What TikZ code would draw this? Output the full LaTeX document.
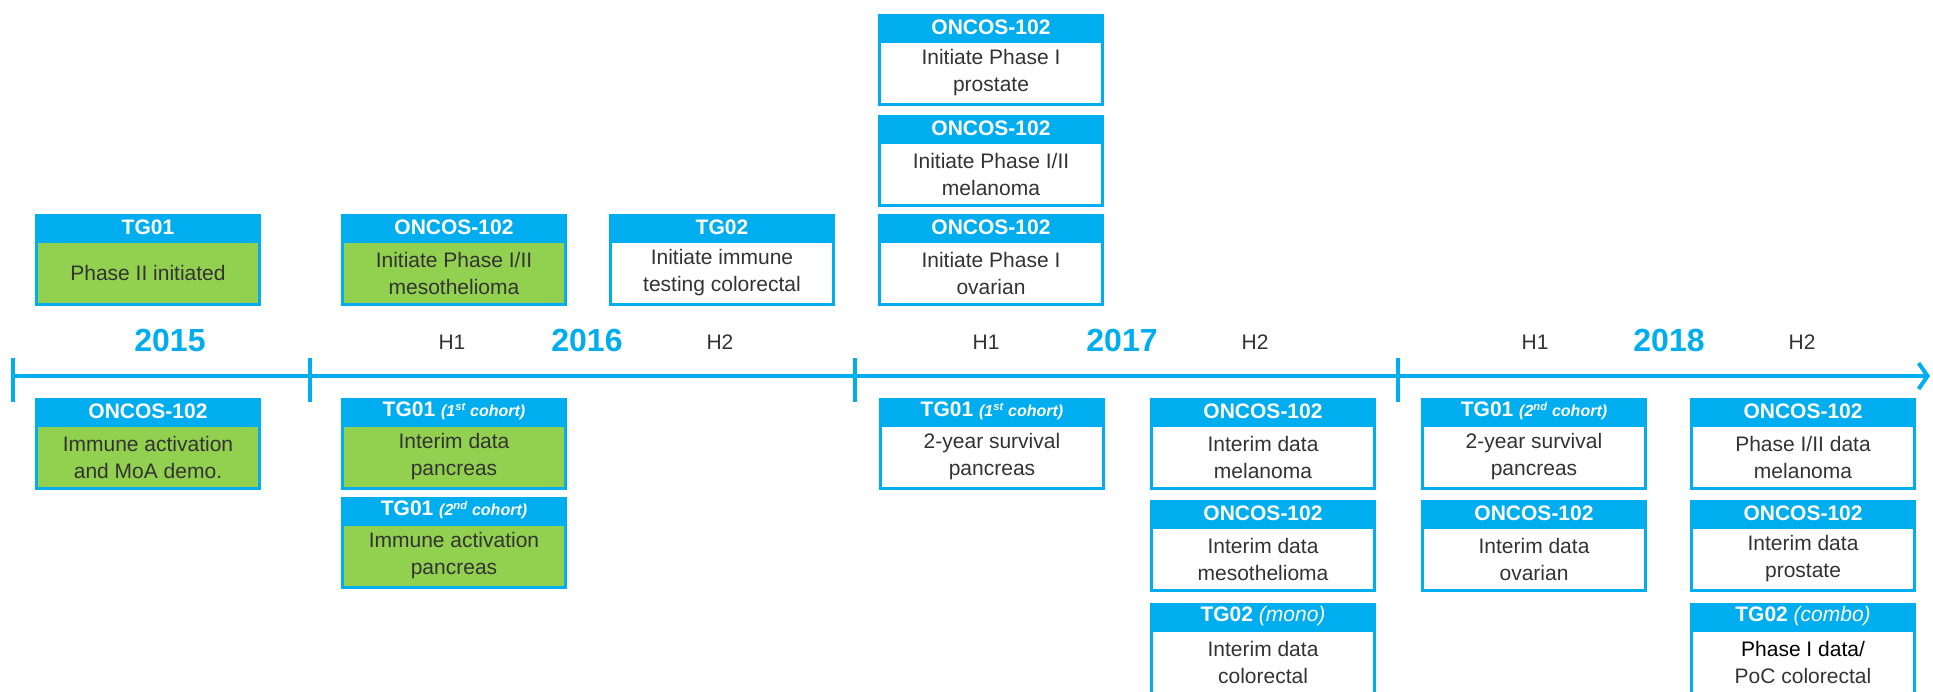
\documentclass[tikz,border=0pt]{standalone}
\usepackage{fontspec}
\setmainfont{Liberation Sans}
\usetikzlibrary{arrows.meta}
\definecolor{cb}{HTML}{00AEEF}
\definecolor{cg}{HTML}{92D050}
\definecolor{ctx}{HTML}{333333}
\newcommand{\evbox}[6]{%
  \node[hdrbox] (#1h) at ({#2+113},{#3+13}) {#5};
  \node[bodybox, fill=#4] (#1) at ({#2+113},{#3+59}) {#6};
}
\newcommand{\coh}[2]{{\fontsize{16}{18}\selectfont\itshape (#1\textsuperscript{#2} cohort)}}
\tikzset{
  hdrbox/.style={rectangle, fill=cb, minimum width=226pt, minimum height=26pt, inner sep=0pt, text=white, font=\bfseries\fontsize{21}{24}\selectfont},
  bodybox/.style={rectangle, draw=cb, line width=3pt, minimum width=223pt, minimum height=63pt, inner sep=0pt, align=center, text=ctx, font=\fontsize{21}{27}\selectfont},
  axisline/.style={draw=cb, line width=4pt},
  yearlab/.style={text=cb, font=\bfseries\fontsize{32}{36}\selectfont, inner sep=0pt},
  halflab/.style={text=ctx, font=\fontsize{21}{24}\selectfont, inner sep=0pt}
}
\begin{document}
\begin{tikzpicture}[x=1pt,y=-1pt]
\useasboundingbox (0,0) rectangle (1933,691);
% axis
\coordinate (a0) at (13,376);
\coordinate (aend) at (1930,376);
\draw[axisline, -{Straight Barb[length=9pt,width=26pt]}] (a0) -- (aend);
\foreach \t/\x in {t1/13, t2/310, t3/855, t4/1398}{
  \coordinate (\t u) at (\x,358);
  \coordinate (\t d) at (\x,402);
  \draw[axisline] (\t u) -- (\t d);
}
% years
\node[yearlab] (y15) at (170,340) {2015};
\node[yearlab] (y16) at (587,340) {2016};
\node[yearlab] (y17) at (1122,340) {2017};
\node[yearlab] (y18) at (1669,340) {2018};
\node[halflab] (h16a) at (452,342) {H1};
\node[halflab] (h16b) at (720,342) {H2};
\node[halflab] (h17a) at (986,342) {H1};
\node[halflab] (h17b) at (1255,342) {H2};
\node[halflab] (h18a) at (1535,342) {H1};
\node[halflab] (h18b) at (1802,342) {H2};
% boxes above
\evbox{a}{35}{214}{cg}{TG01}{Phase II initiated}
\evbox{b}{341}{214}{cg}{ONCOS-102}{Initiate Phase I/II\\mesothelioma}
\evbox{c}{609}{214}{white}{TG02}{Initiate immune\\testing colorectal}
\evbox{d1}{878}{14}{white}{ONCOS-102}{Initiate Phase I\\prostate}
\evbox{d2}{878}{115}{white}{ONCOS-102}{Initiate Phase I/II\\melanoma}
\evbox{d3}{878}{214}{white}{ONCOS-102}{Initiate Phase I\\ovarian}
% boxes below
\evbox{e}{35}{398}{cg}{ONCOS-102}{Immune activation\\and MoA demo.}
\evbox{f1}{341}{398}{cg}{TG01 \coh{1}{st}}{Interim data\\pancreas}
\evbox{f2}{341}{497}{cg}{TG01 \coh{2}{nd}}{Immune activation\\pancreas}
\evbox{g}{879}{398}{white}{TG01 \coh{1}{st}}{2-year survival\\pancreas}
\evbox{h1}{1150}{398}{white}{ONCOS-102}{Interim data\\melanoma}
\evbox{h2}{1150}{500}{white}{ONCOS-102}{Interim data\\mesothelioma}
\evbox{h3}{1150}{603}{white}{TG02 {\mdseries\itshape (mono)}}{Interim data\\colorectal}
\evbox{i1}{1421}{398}{white}{TG01 \coh{2}{nd}}{2-year survival\\pancreas}
\evbox{i2}{1421}{500}{white}{ONCOS-102}{Interim data\\ovarian}
\evbox{j1}{1690}{398}{white}{ONCOS-102}{Phase I/II data\\melanoma}
\evbox{j2}{1690}{500}{white}{ONCOS-102}{Interim data\\prostate}
\evbox{j3}{1690}{603}{white}{TG02 {\mdseries\itshape (combo)}}{{\color{black}Phase I data/}\\PoC colorectal}
\end{tikzpicture}
\end{document}
